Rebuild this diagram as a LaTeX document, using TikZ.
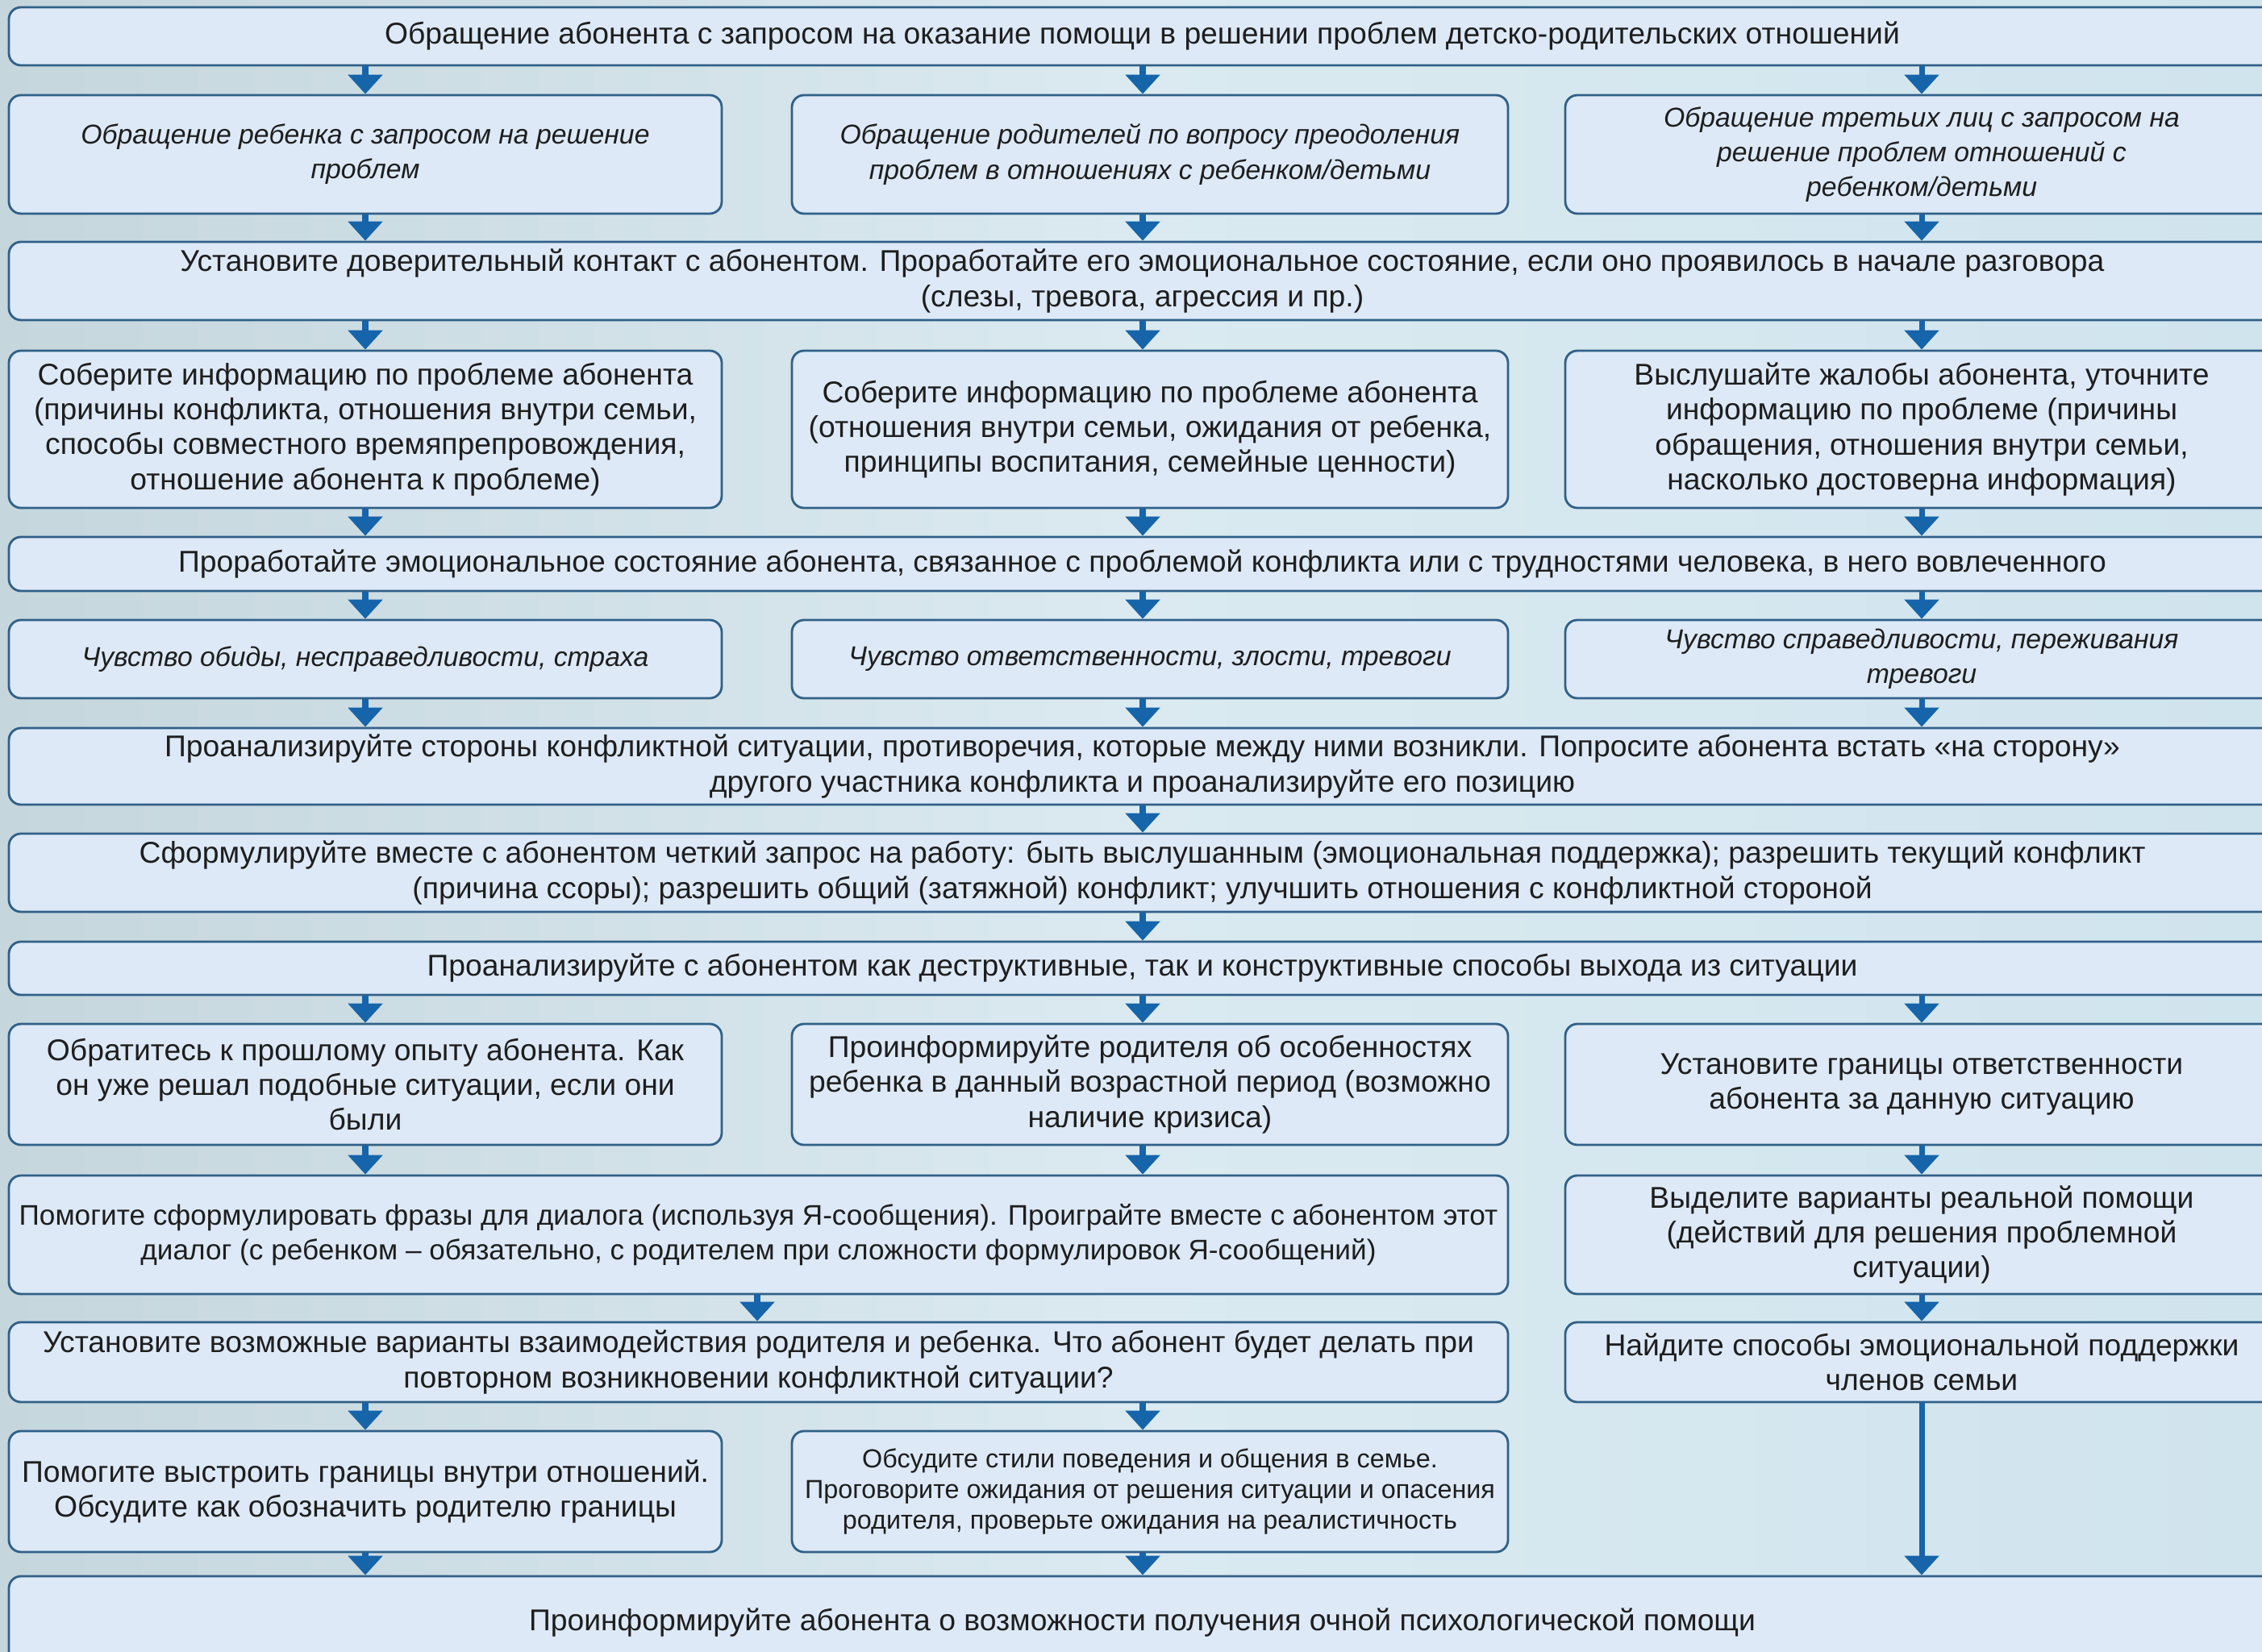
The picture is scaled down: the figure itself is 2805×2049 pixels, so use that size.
\documentclass[tikz,border=0pt]{standalone}
\usepackage{fontspec}
\setmainfont{Liberation Sans}
\usetikzlibrary{arrows.meta}
\definecolor{bgL}{RGB}{198,214,221}
\definecolor{bgM}{RGB}{218,234,240}
\definecolor{bgR}{RGB}{208,228,238}
\definecolor{boxfill}{RGB}{221,233,247}
\definecolor{boxline}{RGB}{48,96,136}
\definecolor{arrowc}{RGB}{22,100,170}
\definecolor{txt}{RGB}{30,30,30}
\newcommand{\bx}[7][]{%
  \node[box,#1,minimum width={(#4-#2)*0.01cm},minimum height={(#5-#3)*0.01cm}]
    (#6) at ({(#2+#4)/2},{(#3+#5)/2}) {#7};}
\begin{document}
\begin{tikzpicture}[x=0.01cm,y=-0.01cm,
  box/.style={draw=boxline, fill=boxfill, line width=0.8pt, rounded corners=0.15cm,
    align=center, text=txt, font=\fontsize{10.6}{12.3}\selectfont, inner sep=0pt},
  ital/.style={font=\fontsize{9.6}{12.3}\selectfont\itshape},
  tight/.style={font=\fontsize{10}{12.3}\selectfont},
  small/.style={font=\fontsize{9.2}{10.8}\selectfont},
  arr/.style={draw=arrowc, line width=2pt, -{Triangle[width=0.42cm,length=0.24cm]}},
]
\useasboundingbox (0,0) rectangle (2805,2049);
\clip (0,0) rectangle (2805,2049);
\shade[left color=bgL, right color=bgR, middle color=bgM] (0,0) rectangle (2805,2049);

\coordinate (c1) at (453,0);
\coordinate (c2) at (1417,0);
\coordinate (c3) at (2383,0);
\coordinate (cm) at (939,0);

% row 1
\bx{11}{9}{2822}{81}{r1}{Обращение абонента с запросом на оказание помощи  в решении проблем детско-родительских отношений}
% row 2
\bx[ital]{11}{118}{895}{265}{r2a}{Обращение ребенка с запросом на решение\\проблем}
\bx[ital]{982}{118}{1870}{265}{r2b}{Обращение родителей по вопросу преодоления\\проблем в отношениях с ребенком/детьми}
\bx[ital]{1941}{118}{2825}{265}{r2c}{Обращение третьих лиц с запросом на\\решение проблем отношений с\\ребенком/детьми}
% row 3
\bx{11}{300}{2822}{397}{r3}{Установите доверительный контакт с абонентом. Проработайте его эмоциональное состояние, если оно проявилось в начале разговора\\(слезы, тревога, агрессия и пр.)}
% row 4
\bx{11}{435}{895}{630}{r4a}{Соберите информацию по проблеме абонента\\(причины конфликта, отношения внутри семьи,\\способы совместного времяпрепровождения,\\отношение абонента к проблеме)}
\bx{982}{435}{1870}{630}{r4b}{Соберите информацию по проблеме абонента\\(отношения внутри семьи, ожидания от ребенка,\\принципы воспитания, семейные ценности)}
\bx{1941}{435}{2825}{630}{r4c}{Выслушайте жалобы абонента, уточните\\информацию по проблеме (причины\\обращения, отношения внутри семьи,\\насколько достоверна информация)}
% row 5
\bx{11}{666}{2822}{733}{r5}{Проработайте эмоциональное состояние абонента, связанное с проблемой конфликта или с трудностями человека, в него вовлеченного}
% row 6
\bx[ital]{11}{769}{895}{866}{r6a}{Чувство обиды, несправедливости, страха}
\bx[ital]{982}{769}{1870}{866}{r6b}{Чувство ответственности, злости, тревоги}
\bx[ital]{1941}{769}{2825}{866}{r6c}{Чувство справедливости, переживания\\тревоги}
% row 7
\bx{11}{903}{2822}{998}{r7}{Проанализируйте стороны конфликтной ситуации, противоречия, которые между ними возникли. Попросите абонента встать «на сторону»\\другого участника конфликта  и проанализируйте его позицию}
% row 8
\bx{11}{1034}{2822}{1131}{r8}{Сформулируйте вместе с абонентом четкий запрос на работу: быть выслушанным (эмоциональная поддержка); разрешить текущий конфликт\\(причина ссоры); разрешить общий (затяжной) конфликт; улучшить отношения с конфликтной стороной}
% row 9
\bx{11}{1168}{2822}{1234}{r9}{Проанализируйте с абонентом как деструктивные,  так и конструктивные способы выхода из ситуации}
% row 10
\bx{11}{1270}{895}{1420}{r10a}{Обратитесь к прошлому опыту абонента. Как\\он уже решал подобные ситуации, если они\\были}
\bx{982}{1270}{1870}{1420}{r10b}{Проинформируйте родителя об особенностях\\ребенка в данный возрастной период (возможно\\наличие  кризиса)}
\bx{1941}{1270}{2825}{1420}{r10c}{Установите границы ответственности\\абонента за данную ситуацию}
% row 11
\bx[tight]{11}{1458}{1870}{1605}{r11a}{Помогите сформулировать фразы для диалога (используя Я-сообщения). Проиграйте вместе с абонентом этот\\диалог (с ребенком – обязательно, с родителем при сложности формулировок Я-сообщений)}
\bx{1941}{1458}{2825}{1605}{r11c}{Выделите варианты реальной помощи\\(действий для решения проблемной\\ситуации)}
% row 12
\bx{11}{1640}{1870}{1739}{r12a}{Установите возможные варианты взаимодействия родителя и ребенка. Что абонент будет делать при\\повторном возникновении конфликтной ситуации?}
\bx{1941}{1640}{2825}{1739}{r12c}{Найдите способы эмоциональной поддержки\\членов семьи}
% row 13
\bx{11}{1775}{895}{1925}{r13a}{Помогите выстроить границы внутри отношений.\\Обсудите как обозначить родителю границы}
\bx[small]{982}{1775}{1870}{1925}{r13b}{Обсудите стили поведения и общения в семье.\\Проговорите ожидания от решения ситуации и опасения\\родителя, проверьте ожидания на реалистичность}
% row 14
\bx{11}{1955}{2822}{2070}{r14}{Проинформируйте абонента о возможности  получения очной психологической помощи}

% arrows
\foreach \c in {c1,c2,c3} \draw[arr] (r1.south -| \c) -- (r2a.north -| \c);
\draw[arr] (r2a.south -| c1) -- (r3.north -| c1);
\draw[arr] (r2b.south -| c2) -- (r3.north -| c2);
\draw[arr] (r2c.south -| c3) -- (r3.north -| c3);
\foreach \c in {c1,c2,c3} \draw[arr] (r3.south -| \c) -- (r4a.north -| \c);
\draw[arr] (r4a.south -| c1) -- (r5.north -| c1);
\draw[arr] (r4b.south -| c2) -- (r5.north -| c2);
\draw[arr] (r4c.south -| c3) -- (r5.north -| c3);
\foreach \c in {c1,c2,c3} \draw[arr] (r5.south -| \c) -- (r6a.north -| \c);
\draw[arr] (r6a.south -| c1) -- (r7.north -| c1);
\draw[arr] (r6b.south -| c2) -- (r7.north -| c2);
\draw[arr] (r6c.south -| c3) -- (r7.north -| c3);
\draw[arr] (r7.south -| c2) -- (r8.north -| c2);
\draw[arr] (r8.south -| c2) -- (r9.north -| c2);
\foreach \c in {c1,c2,c3} \draw[arr] (r9.south -| \c) -- (r10a.north -| \c);
\draw[arr] (r10a.south -| c1) -- (r11a.north -| c1);
\draw[arr] (r10b.south -| c2) -- (r11a.north -| c2);
\draw[arr] (r10c.south -| c3) -- (r11c.north -| c3);
\draw[arr] (r11a.south -| cm) -- (r12a.north -| cm);
\draw[arr] (r11c.south -| c3) -- (r12c.north -| c3);
\draw[arr] (r12a.south -| c1) -- (r13a.north -| c1);
\draw[arr] (r12a.south -| c2) -- (r13b.north -| c2);
\draw[arr] (r12c.south -| c3) -- (r14.north -| c3);
\draw[arr] (r13a.south -| c1) -- (r14.north -| c1);
\draw[arr] (r13b.south -| c2) -- (r14.north -| c2);
\end{tikzpicture}
\end{document}
